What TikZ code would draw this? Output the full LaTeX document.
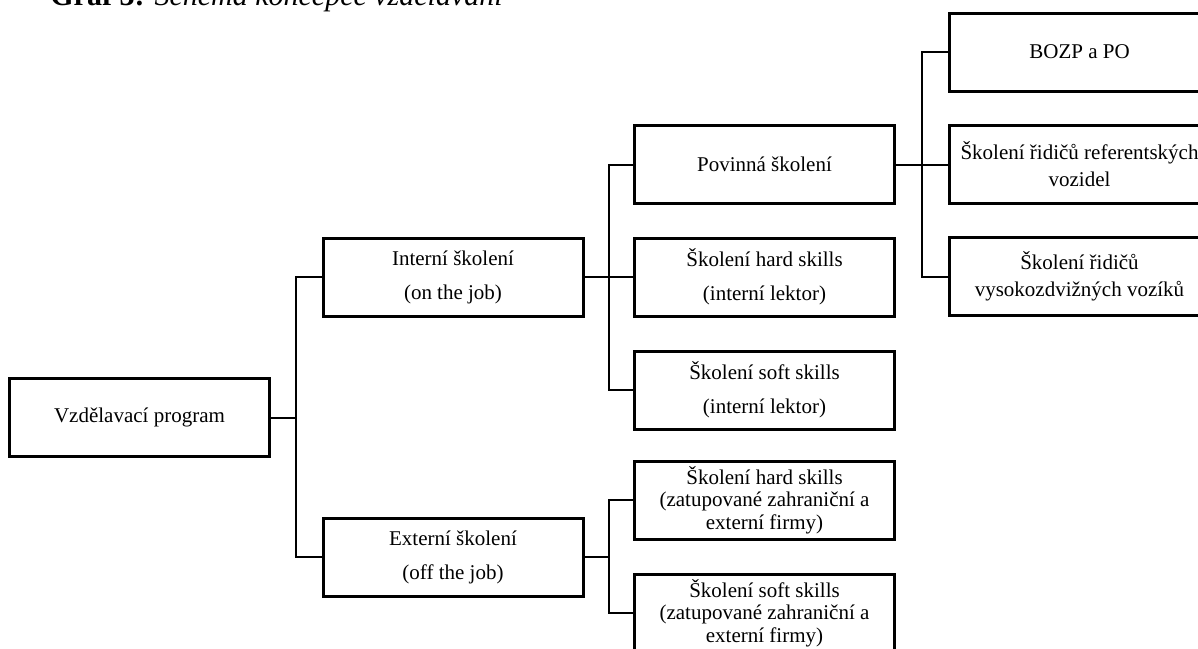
\documentclass[tikz,border=0pt]{standalone}
\usepackage{fontspec}
\setmainfont{Liberation Serif}
\newcommand{\drawboxwide}{\node[draw, line width=1.5pt, minimum width=130pt, minimum height=39pt, inner sep=0pt, align=center, font=\fontsize{10.5}{17}\selectfont]}
\newcommand{\drawboxmid}{\node[draw, line width=1.5pt, minimum width=130pt, minimum height=39pt, inner sep=0pt, align=center, font=\fontsize{10.5}{13.5}\selectfont]}
\newcommand{\drawboxtight}{\node[draw, line width=1.5pt, minimum width=130pt, minimum height=39pt, inner sep=0pt, align=center, font=\fontsize{10.5}{11.3}\selectfont]}
\newcommand{\branch}{\draw[line width=1pt]}

\begin{document}
\begin{tikzpicture}[x=0.5pt, y=0.5pt]
\useasboundingbox (0,0) rectangle (1198,-648);
%caption, cut at the top
\node[anchor=base west, inner sep=0pt, font=\fontsize{15}{18}\selectfont] (title) at (50,-5) {\textbf{Graf 3:} \textit{Schéma koncepce vzdělávání}};

\drawboxwide (root) at (139.5,-417.5) {Vzdělavací program};

\drawboxwide (int) at (453,-277) {Interní školení\\(on the job)};
\drawboxwide (ext) at (453,-557) {Externí školení\\(off the job)};

\drawboxwide (pov) at (764.5,-164.5) {Povinná školení};
\drawboxwide (hardInt) at (764.5,-277) {Školení hard skills\\(interní lektor)};
\drawboxwide (softInt) at (764.5,-390) {Školení soft skills\\(interní lektor)};
\drawboxtight (hardExt) at (764.5,-500) {Školení hard skills\\(zatupované zahraniční a\\externí firmy)};
\drawboxtight (softExt) at (764.5,-613) {Školení soft skills\\(zatupované zahraniční a\\externí firmy)};

\drawboxmid (bozp) at (1079.5,-52) {BOZP a PO};
\drawboxmid (ridRef) at (1079.5,-164.5) {Školení řidičů referentských\\vozidel};
\drawboxmid (ridVzv) at (1079.5,-276.5) {Školení řidičů\\vysokozdvižných vozíků};

\coordinate (rootMid) at (296,-417.5);
\coordinate (intMid) at (609,-277);
\coordinate (extMid) at (609,-557);
\coordinate (povMid) at (922,-164.5);

%level 1
\branch (root) -- (rootMid);
\branch (int.west) -| (rootMid) |- (ext.west);

%level 2
\branch (int) -- (intMid);
\branch (intMid) -- (hardInt);
\branch (pov.west) -| (intMid) |- (softInt.west);
\branch (ext) -- (extMid);
\branch (hardExt.west) -| (extMid) |- (softExt.west);

%level 3
\branch (pov) -- (povMid);
\branch (povMid) -- (ridRef);
\branch (bozp.west) -| (povMid) |- (ridVzv.west);
\end{tikzpicture}
\end{document}
